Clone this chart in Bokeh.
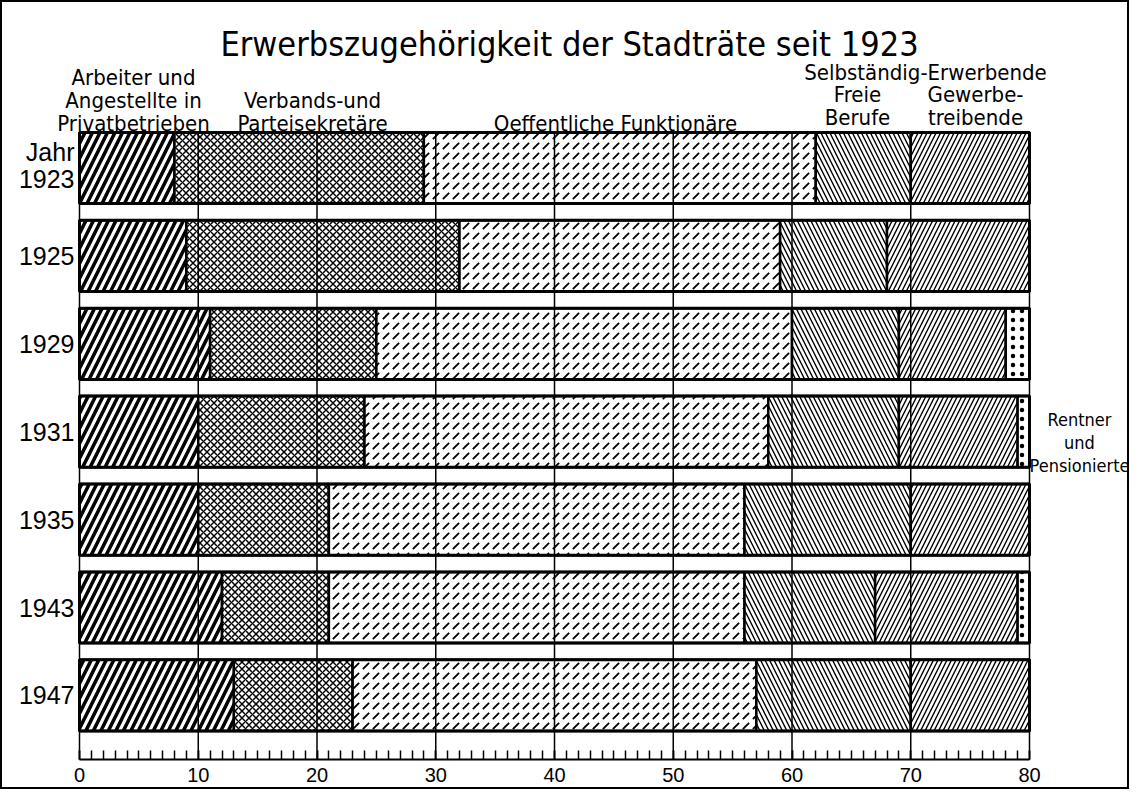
import numpy as np
from bokeh.plotting import figure
from bokeh.models import Range1d, LinearAxis, FixedTicker
from bokeh.core.properties import value
from bokeh.embed import file_html
from bokeh.resources import INLINE

# ---- data (number of city councillors by occupation, total 80) ----
years = ["1923", "1925", "1929", "1931", "1935", "1943", "1947"]
arbeiter = [8, 9, 11, 10, 10, 12, 13]        # Arbeiter und Angestellte in Privatbetrieben
verbands = [21, 23, 14, 14, 11, 9, 10]       # Verbands- und Parteisekretaere
oeffentl = [33, 27, 35, 34, 35, 35, 34]      # Oeffentliche Funktionaere
freie = [8, 9, 9, 11, 14, 11, 13]            # Freie Berufe
gewerbe = [10, 12, 9, 10, 10, 12, 10]        # Gewerbetreibende
rentner = [0, 0, 2, 1, 0, 1, 0]              # Rentner und Pensionierte
ticks = [0, 10, 20, 30, 40, 50, 60, 70, 80]
tick_labels = ["0", "10", "20", "30", "40", "50", "60", "70", "80"]

# ---- geometry ----
W, H = 1129, 789
PX0, SX = 79.0, 11.875      # canvas x of value 0, px per unit
PY0, SY = 167.5, 87.9       # canvas y of first bar centre, px per row

def dx(px):
    return (px - 8 - PX0) / SX

def dy(py):
    return (PY0 - (py - 8)) / SY

FONT = value("'Liberation Sans Narrow', 'DejaVu Sans Condensed', 'Liberation Sans', sans-serif")
FONT_N = value("'Liberation Sans', sans-serif")

p = figure(width=W, height=H, output_backend="svg", toolbar_location=None,
           x_range=Range1d(-PX0 / SX, (W - PX0) / SX),
           y_range=Range1d(-(H - PY0) / SY, PY0 / SY),
           x_axis_location=None, y_axis_location=None, min_border=0)
p.grid.grid_line_color = None
p.outline_line_color = "black"
p.outline_line_width = 3
p.background_fill_color = "white"
p.border_fill_color = "white"

ypos = -np.arange(len(years), dtype=float)
BAR_H = 0.81
cum = np.zeros(len(years))
layers = [
    (arbeiter, [dict(fill_color="black", hatch_pattern="/", hatch_color="white", hatch_scale=15, hatch_weight=3.2)]),
    (verbands, [dict(fill_color="white", hatch_pattern="x", hatch_color="black", hatch_scale=7, hatch_weight=1.5)]),
    (oeffentl, [dict(fill_color="white", hatch_pattern=",", hatch_color="black", hatch_scale=10, hatch_weight=1.8)]),
    (freie, [dict(fill_color="white", hatch_pattern="\\", hatch_color="black", hatch_scale=9, hatch_weight=1.4)]),
    (gewerbe, [dict(fill_color="white", hatch_pattern="/", hatch_color="black", hatch_scale=9, hatch_weight=1.4)]),
    (rentner, [dict(fill_color="white", hatch_pattern=".", hatch_color="black", hatch_scale=9, hatch_weight=1.1)]),
]
for vals, styles in layers:
    v = np.array(vals, dtype=float)
    left, right = cum.copy(), cum + v
    m = v > 0
    for i, st in enumerate(styles):
        p.hbar(y=ypos[m], left=left[m], right=right[m], height=BAR_H,
               line_color="black" if i == 0 else None, line_width=2.5, **st)
    cum = right

# bar outlines on top
p.hbar(y=ypos, left=np.zeros(len(years)), right=cum, height=BAR_H,
       fill_alpha=0, line_color="black", line_width=3)

# vertical grid lines
base_y = dy(767)
top_y = ypos[0] + BAR_H / 2
p.segment(x0=ticks, y0=[top_y] * len(ticks), x1=ticks, y1=[base_y] * len(ticks),
          line_color="black", line_width=1.5)

# axis inside the frame
ax = LinearAxis(fixed_location=base_y,
                ticker=FixedTicker(ticks=ticks, minor_ticks=list(range(0, 81))),
                bounds=(0, 80))
ax.major_label_overrides = {t: l for t, l in zip(ticks, tick_labels)}
ax.axis_line_width = 2
ax.axis_line_color = "black"
ax.major_tick_in = 9
ax.major_tick_out = 0
ax.major_tick_line_width = 1.5
ax.minor_tick_in = 9
ax.minor_tick_out = 0
ax.minor_tick_line_width = 1.5
ax.minor_tick_line_color = "black"
ax.major_label_standoff = 8
ax.major_label_text_font_size = "20px"
ax.major_label_text_font = "Liberation Sans"
ax.major_label_text_color = "black"
p.add_layout(ax, "below")

# year labels (first one sits lower, under "Jahr")
year_y = [dy(186)] + list(ypos[1:])
p.text(x=[dx(82)] * len(years), y=year_y, text=years, text_align="right", text_baseline="middle",
       text_font=FONT_N, text_font_size="25px", text_color="black")
p.text(x=[dx(82)], y=[dy(159)], text=["Jahr"], text_align="right", text_baseline="middle",
       text_font=FONT_N, text_font_size="25px", text_color="black")

# title
p.text(x=[dx(577)], y=[dy(51)], text=["Erwerbszugehörigkeit der Stadträte seit 1923"],
       text_align="center", text_baseline="alphabetic", text_font=FONT,
       text_font_size="34px", text_color="black")

# category labels
cat_txt = ["Arbeiter und", "Angestellte in", "Privatbetrieben",
           "Verbands-und", "Parteisekretäre",
           "Oeffentliche Funktionäre",
           "Selbständig-Erwerbende",
           "Freie", "Berufe",
           "Gewerbe-", "treibende"]
cat_px = [141, 141, 141, 320, 320, 623, 933, 865, 865, 983, 983]
cat_py = [85, 108, 131, 108, 131, 131, 80, 102, 125, 102, 125]
p.text(x=[dx(v) for v in cat_px], y=[dy(v) for v in cat_py], text=cat_txt,
       text_align="center", text_baseline="alphabetic", text_font=FONT,
       text_font_size="22px", text_color="black")

# side label for the small last segment
side_txt = ["Rentner", "und", "Pensionierte"]
side_py = [427, 450, 473]
p.text(x=[dx(1087)] * 3, y=[dy(v) for v in side_py], text=side_txt,
       text_align="center", text_baseline="alphabetic", text_font=FONT,
       text_font_size="18px", text_color="black")

open("out.html", "w").write(file_html(p, INLINE))
